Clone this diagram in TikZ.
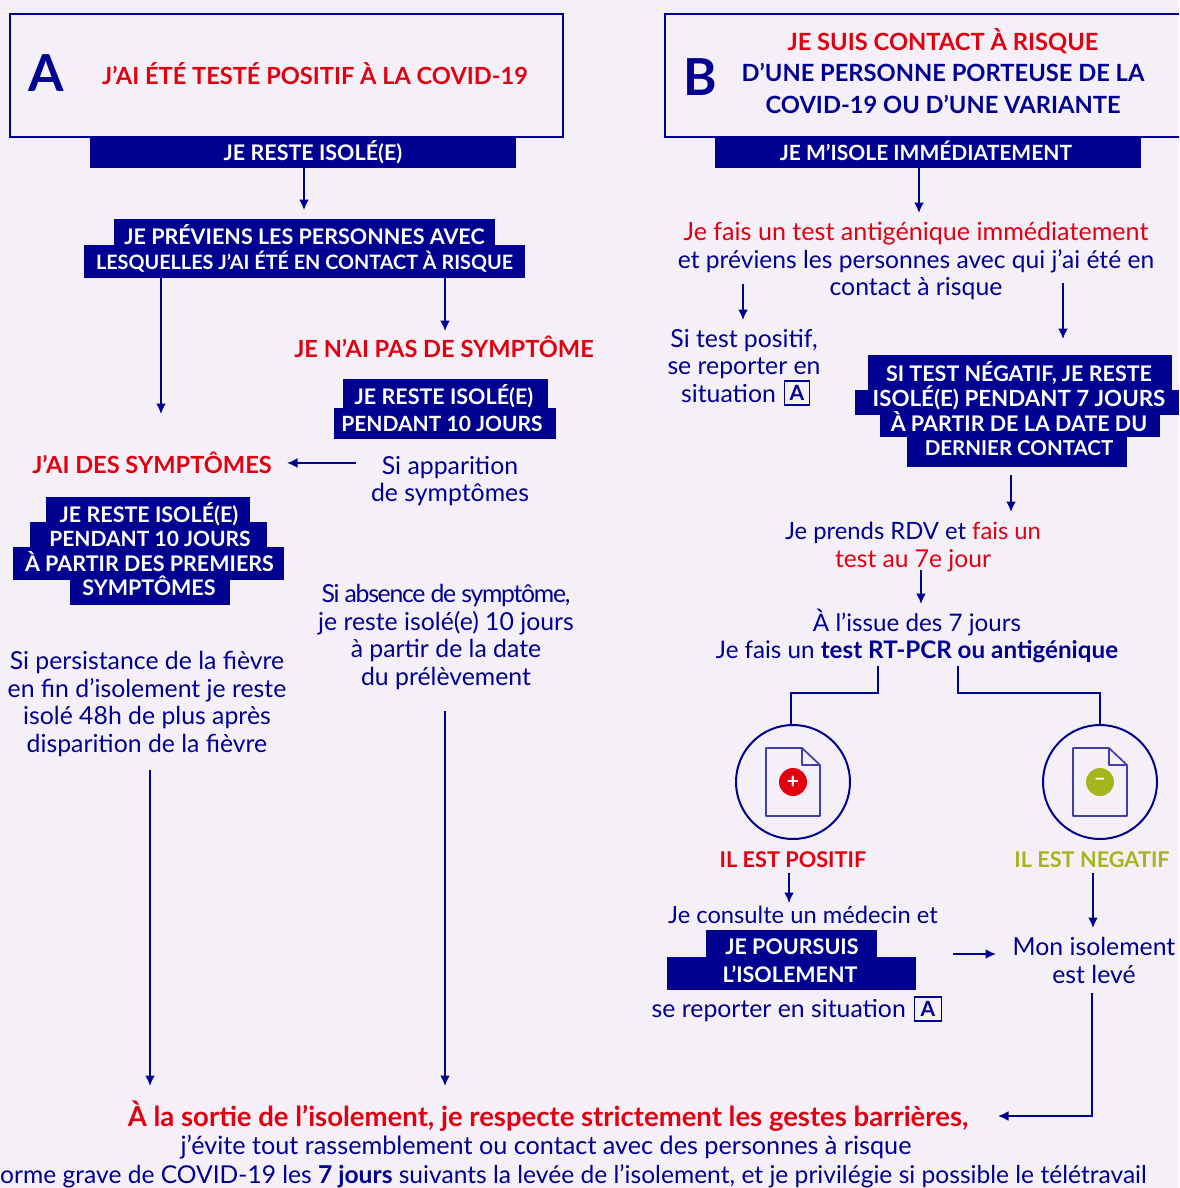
\documentclass[tikz,border=0pt]{standalone}
\usepackage{fontspec}
\setmainfont{Lato}
\usetikzlibrary{arrows.meta}
\definecolor{navy}{HTML}{000091}
\definecolor{rouge}{HTML}{E1000F}
\definecolor{vert}{HTML}{A2B61E}
\definecolor{fond}{HTML}{F5F0F8}
\newcommand{\fs}[1]{\fontsize{#1}{27.4}\selectfont}
\tikzset{
 x=1pt,y=-1pt,
 arr/.style={draw=navy,line width=2pt,-{Latex[length=10.5pt,width=10pt]}},
 link/.style={draw=navy,line width=2pt},
 lbl/.style={inner sep=0pt,text=navy,align=center,font=\fontsize{24.8}{27.4}\selectfont},
 head/.style={inner sep=0pt,text=rouge,align=center,text height=17pt,text depth=0pt,font=\bfseries\fontsize{23.6}{31.5}\selectfont},
 headm/.style={inner sep=0pt,align=center,font=\bfseries\fontsize{23.7}{31.5}\selectfont},
 ban/.style={fill=navy,inner sep=0pt,anchor=center},
 bant/.style={text=white,inner sep=0pt,text height=17.5pt,text depth=0pt,font=\bfseries\fontsize{21.5}{24}\selectfont},
 titlebox/.style={draw=navy,line width=2pt,inner sep=0pt,anchor=north west},
 boxa/.style={draw=navy,line width=1.7pt,inner sep=0pt,text=navy,minimum width=25pt,minimum height=24pt,font=\bfseries\fontsize{21}{21}\selectfont},
 ring/.style={circle,draw=navy,line width=2pt,minimum size=114pt,inner sep=0pt},
 dot/.style={circle,inner sep=0pt,minimum size=28pt,text=white,font=\bfseries\fontsize{21}{21}\selectfont},
 big/.style={inner sep=0pt,text=navy,font=\bfseries\fontsize{51}{51}\selectfont},
 ilab/.style={inner sep=0pt,font=\bfseries\fontsize{21.7}{24}\selectfont},
}
\begin{document}
\begin{tikzpicture}
\useasboundingbox (0,0) rectangle (1179,1188);
\fill[fond] (0,0) rectangle (1179,1188);
\clip (0,0) rectangle (1179,1188);
% --- A
\node[titlebox,minimum width=553pt,minimum height=123pt] (boxA) at (9,13) {};
\node[big] (letA) at (46,73) {A};
\node[head] (titA) at (315,76) {J’AI ÉTÉ TESTÉ POSITIF À LA COVID-19};
\node[ban,minimum width=426pt,minimum height=31pt] (a1) at (303,152.5) {};
\node[bant] (a1t) at (313,152) {JE RESTE ISOLÉ(E)};
\node[ban,minimum width=381pt,minimum height=27pt] (a2a) at (304.5,232.5) {};
\node[ban,minimum width=441pt,minimum height=33pt] (a2b) at (304.5,261.5) {};
\node[bant] (a2at) at (304.5,236) {JE PRÉVIENS LES PERSONNES AVEC};
\node[bant,font=\bfseries\fontsize{19.8}{24}\selectfont] (a2bt) at (304.5,261) {LESQUELLES J’AI ÉTÉ EN CONTACT À RISQUE};
\node[head] (noS) at (444,349) {JE N’AI PAS DE SYMPTÔME};
\node[ban,minimum width=205pt,minimum height=30pt] (n1) at (445.5,394) {};
\node[ban,minimum width=222pt,minimum height=31pt] (n2) at (445,423.5) {};
\node[bant] (n1t) at (444,396) {JE RESTE ISOLÉ(E)};
\node[bant,font=\bfseries\fontsize{21}{24}\selectfont] (n2t) at (442,423) {PENDANT 10 JOURS};
\node[lbl] (app) at (450,481) {Si apparition\\de symptômes};
\node[head] (yesS) at (152,465) {J’AI DES SYMPTÔMES};
\node[ban,minimum width=204pt,minimum height=26pt] (y1) at (148,510) {};
\node[ban,minimum width=237pt,minimum height=26pt] (y2) at (148.5,535) {};
\node[ban,minimum width=271pt,minimum height=33pt] (y3) at (148.5,563.5) {};
\node[ban,minimum width=160pt,minimum height=25pt] (y4) at (150,592) {};
\node[bant] (y1t) at (149,514) {JE RESTE ISOLÉ(E)};
\node[bant,font=\bfseries\fontsize{21}{24}\selectfont] (y2t) at (150,538) {PENDANT 10 JOURS};
\node[bant] (y3t) at (149.5,563) {À PARTIR DES PREMIERS};
\node[bant] (y4t) at (149,587) {SYMPTÔMES};
\node[lbl] (pers) at (147,704) {Si persistance de la fièvre\\en fin d’isolement je reste\\isolé 48h de plus après\\disparition de la fièvre};
\node[lbl] (abs) at (446,637) {{\addfontfeature{LetterSpace=-5.2}Si absence de symptôme,}\\je reste isolé(e) 10 jours\\à partir de la date\\du prélèvement};
% --- B
\node[titlebox,minimum width=540pt,minimum height=123pt] (boxB) at (664,13) {};
\node[big] (letB) at (700,77) {B};
\node[headm] (titB) at (943,71) {\textcolor{rouge}{JE SUIS CONTACT À RISQUE}\\\textcolor{navy}{D’UNE PERSONNE PORTEUSE DE LA}\\\textcolor{navy}{COVID-19 OU D’UNE VARIANTE}};
\node[ban,minimum width=426pt,minimum height=31pt] (b1) at (928,152.5) {};
\node[bant,font=\bfseries\fontsize{21}{24}\selectfont] (b1t) at (926,152) {JE M’ISOLE IMMÉDIATEMENT};
\node[lbl] (test) at (916,261) {\textcolor{rouge}{\fs{25.1}Je fais un test antigénique immédiatement}\\{\fs{24.6}et préviens les personnes avec qui j’ai été en}\\contact à risque};
\node[lbl] (pos) at (744,366) {Si test positif,\\se reporter en\\situation\hspace*{31pt}};
\node[boxa] (pA) at (797,393) {A};
\node[ban,minimum width=304pt,minimum height=35pt] (s1) at (1020,372.5) {};
\node[ban,minimum width=324pt,minimum height=25pt] (s2) at (1017,402.5) {};
\node[ban,minimum width=280pt,minimum height=22pt] (s3) at (1020,426) {};
\node[ban,minimum width=220pt,minimum height=30pt] (s4) at (1017,452) {};
\node[bant] (s1t) at (1019,373) {SI TEST NÉGATIF, JE RESTE};
\node[bant,font=\bfseries\fontsize{22.3}{24}\selectfont] (s2t) at (1019,398) {ISOLÉ(E) PENDANT 7 JOURS};
\node[bant] (s3t) at (1019,423) {À PARTIR DE LA DATE DU};
\node[bant,font=\bfseries\fontsize{20.5}{24}\selectfont] (s4t) at (1019,447) {DERNIER CONTACT};
\node[lbl] (rdv) at (913,547) {{\fs{23.8}Je prends RDV et \textcolor{rouge}{fais un}}\\\textcolor{rouge}{\fs{24.6}test au 7e jour}};
\node[lbl,font=\fontsize{24.2}{27.4}\selectfont] (iss) at (917,636) {À l’issue des 7 jours\\Je fais un \textbf{test RT-PCR ou antigénique}};
\coordinate (iL) at (878,666);
\coordinate (iR) at (958,666);
\node[ring] (cP) at (793,782) {};
\node[ring] (cN) at (1100,782) {};
% document icons
\foreach \cx in {793,1100}{
  \draw[navy!75,line width=1.7pt,line join=round] (\cx-27,748) -- (\cx+9,748) -- (\cx+27,765) -- (\cx+27,816) -- (\cx-27,816) -- cycle;
  \draw[navy!75,line width=1.4pt,line join=round] (\cx+9,748) -- (\cx+9,765) -- (\cx+27,765);
}
\node[dot,fill=rouge] (dotP) at (793,782) {+};
\node[dot,fill=vert] (dotN) at (1100,782) {–};
\node[ilab,text=rouge] (ilP) at (793,860) {IL EST POSITIF};
\node[ilab,text=vert] (ilN) at (1092,860) {IL EST NEGATIF};
\node[lbl,font=\fontsize{23.7}{27.4}\selectfont] (cons) at (803,915) {Je consulte un médecin et};
\node[ban,minimum width=171pt,minimum height=27pt] (j1) at (791.5,943.5) {};
\node[ban,minimum width=249pt,minimum height=33pt] (j2) at (791.5,973.5) {};
\node[bant] (j1t) at (792,946) {JE POURSUIS};
\node[bant] (j2t) at (790,974) {L’ISOLEMENT};
\node[lbl,anchor=east] (rep) at (906,1010.5) {se reporter en situation};
\node[boxa,minimum width=27pt] (rA) at (928,1009) {A};
\node[lbl] (lev) at (1094,960.5) {Mon isolement\\est levé};
% --- bottom
\node[inner sep=0pt,text=rouge,font=\bfseries\fontsize{27.5}{27}\selectfont] (b1l) at (548,1116) {À la sortie de l’isolement, je respecte strictement les gestes barrières,};
\node[lbl,font=\fontsize{25.2}{27}\selectfont] (b2l) at (546,1147) {j’évite tout rassemblement ou contact avec des personnes à risque};
\node[lbl,anchor=east,font=\fontsize{24.6}{27}\selectfont] (b3l) at (1147,1176) {orme grave de COVID-19 les \textbf{7 jours} suivants la levée de l’isolement, et je privilégie si possible le télétravail};
% --- connectors
\coordinate (e0) at (304,210); \draw[arr] (e0 |- a1.south) -- (e0);
\coordinate (e1) at (161,414); \draw[arr] (e1 |- a2b.south) -- (e1);
\coordinate (e2) at (445,331); \draw[arr] (e2 |- a2b.south) -- (e2);
\coordinate (e3) at (356,463); \coordinate (e4) at (287,463); \draw[arr] (e3) -- (e4);
\coordinate (e5) at (150,770); \coordinate (e6) at (150,1086); \draw[arr] (e5) -- (e6);
\coordinate (e7) at (445,711); \coordinate (e8) at (445,1086); \draw[arr] (e7) -- (e8);
\coordinate (f1) at (919,213); \draw[arr] (f1 |- b1.south) -- (f1);
\coordinate (f2) at (743,284); \coordinate (f3) at (743,320); \draw[arr] (f2) -- (f3);
\coordinate (f4) at (1063,283); \coordinate (f5) at (1063,339); \draw[arr] (f4) -- (f5);
\coordinate (f6) at (1011,475); \coordinate (f7) at (1011,512); \draw[arr] (f6) -- (f7);
\coordinate (f8) at (921,570); \coordinate (f9) at (921,604); \draw[arr] (f8) -- (f9);
\coordinate (jL) at (791,693); \coordinate (jR) at (1100,693);
\draw[link] (iL) |- (jL) -- (jL |- cP.north);
\draw[link] (iR) |- (jR) -- (cN.north);
\coordinate (g1) at (789,873); \coordinate (g2) at (789,903); \draw[arr] (g1) -- (g2);
\coordinate (g3) at (1093,873); \coordinate (g4) at (1093,928); \draw[arr] (g3) -- (g4);
\coordinate (g5) at (953,954); \coordinate (g6) at (996,954); \draw[arr] (g5) -- (g6);
\coordinate (g7) at (1092,993); \coordinate (g8) at (998,1116); \draw[arr] (g7) |- (g8);
\end{tikzpicture}
\end{document}
